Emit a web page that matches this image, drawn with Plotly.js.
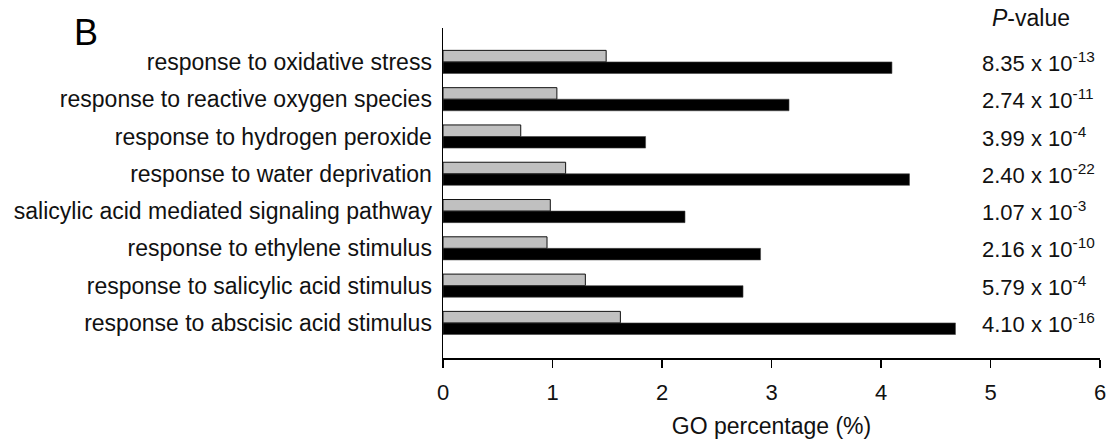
<!DOCTYPE html>
<html>
<head>
<meta charset="utf-8">
<script src="https://cdn.plot.ly/plotly-3.0.1.min.js"></script>
<style>html,body{margin:0;padding:0;background:#fff;}#chart{width:1113px;height:446px;}</style>
</head>
<body>
<div id="chart"></div>
<script>
var categories = [
  "response to oxidative stress",
  "response to reactive oxygen species",
  "response to hydrogen peroxide",
  "response to water deprivation",
  "salicylic acid mediated signaling pathway",
  "response to ethylene stimulus",
  "response to salicylic acid stimulus",
  "response to abscisic acid stimulus"
];
var greyValues = [1.49, 1.04, 0.71, 1.12, 0.98, 0.95, 1.30, 1.62];
var blackValues = [4.10, 3.16, 1.85, 4.26, 2.21, 2.90, 2.74, 4.68];
var pValueMantissa = ["8.35", "2.74", "3.99", "2.40", "1.07", "2.16", "5.79", "4.10"];
var pValueExponent = ["-13", "-11", "-4", "-22", "-3", "-10", "-4", "-16"];
var xTickValues = [0, 1, 2, 3, 4, 5, 6];

var FONT = "Liberation Sans, Arial, sans-serif";

var traces = [
  {
    type: "bar", orientation: "h", y: categories, x: greyValues,
    marker: {color: "#c0c0c0", line: {color: "#111", width: 1}},
    hoverinfo: "x", showlegend: false
  },
  {
    type: "bar", orientation: "h", y: categories, x: blackValues,
    marker: {color: "#000", line: {color: "#444", width: 0.6}},
    hoverinfo: "x", showlegend: false
  }
];

var annotations = [
  {xref: "paper", yref: "paper", x: -0.5434, y: 0.985, xanchor: "center", yanchor: "middle",
   text: "B", showarrow: false, font: {family: FONT, size: 36, color: "#000"}},
  {xref: "paper", yref: "paper", x: 0.895, y: 1.029, xanchor: "center", yanchor: "middle",
   text: "<i>P</i>-value", showarrow: false, font: {family: FONT, size: 23, color: "#111"}}
];
for (var i = 0; i < categories.length; i++) {
  annotations.push({
    xref: "paper", yref: "y", x: 0.817, y: categories[i], xanchor: "left", yanchor: "middle",
    text: pValueMantissa[i] + " x 10<sup>" + pValueExponent[i] + "</sup>",
    showarrow: false, font: {family: FONT, size: 22, color: "#111"}
  });
}

var layout = {
  width: 1113, height: 446,
  margin: {l: 443, r: 13, t: 28, b: 88, pad: 0},
  paper_bgcolor: "#fff", plot_bgcolor: "#fff",
  barmode: "group", bargap: 0.38, bargroupgap: 0,
  font: {family: FONT, color: "#111"},
  xaxis: {
    range: [0, 6], tickvals: xTickValues, ticktext: xTickValues.map(String),
    showgrid: false, zeroline: false,
    showline: true, linecolor: "#000", linewidth: 1.5,
    ticks: "outside", ticklen: 8, tickwidth: 1.5, tickcolor: "#000",
    ticklabelstandoff: 6,
    tickfont: {family: FONT, size: 22, color: "#111"},
    title: {text: "GO percentage (%)", font: {family: FONT, size: 23, color: "#111"}, standoff: 14},
    fixedrange: true
  },
  yaxis: {
    type: "category", categoryorder: "array", categoryarray: categories,
    range: [7.94, -0.91],
    showgrid: false, zeroline: false,
    showline: true, linecolor: "#000", linewidth: 1.5,
    ticks: "", ticklabelstandoff: 5,
    tickfont: {family: FONT, size: 23, color: "#111"},
    fixedrange: true
  },
  annotations: annotations
};

Plotly.newPlot("chart", traces, layout, {displayModeBar: false, staticPlot: true});
</script>
</body>
</html>
